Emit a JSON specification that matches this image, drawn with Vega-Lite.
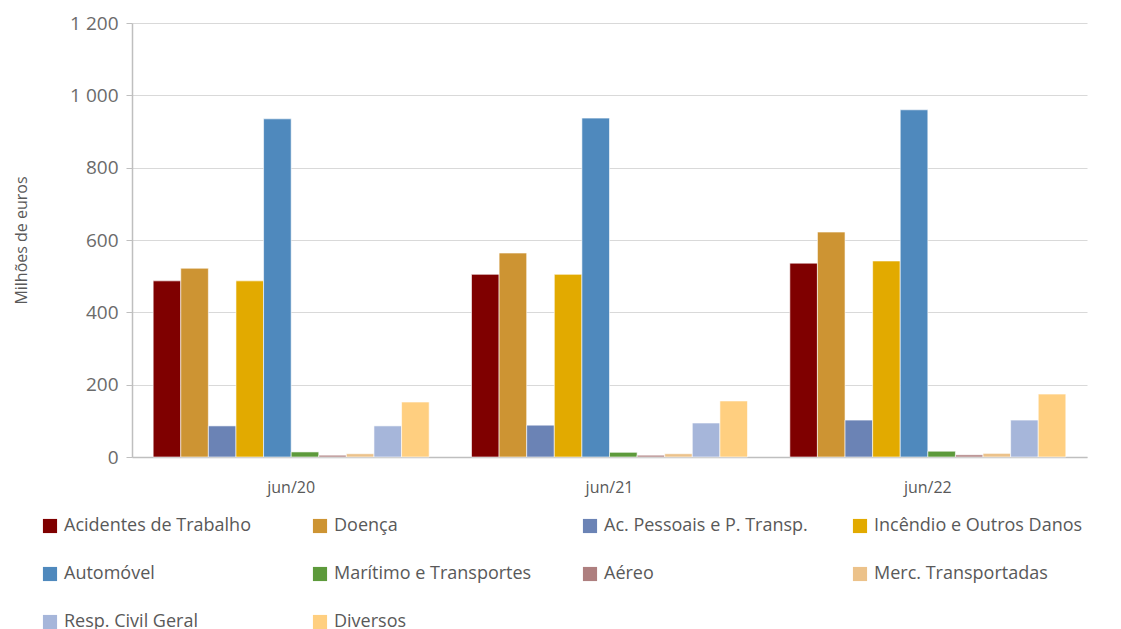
{
  "$schema": "https://vega.github.io/schema/vega-lite/v6.json",
  "width": 955,
  "height": 434,
  "autosize": {"type": "none"},
  "padding": {"left": 132, "top": 23, "right": 34, "bottom": 172},
  "background": "white",
  "config": {
    "font": "Open Sans",
    "view": {"stroke": null}
  },
  "data": {
    "values": [
      {"periodo": "jun/20", "ramo": "Acidentes de Trabalho", "ordem": 1, "valor": 487},
      {"periodo": "jun/20", "ramo": "Doença", "ordem": 2, "valor": 522},
      {"periodo": "jun/20", "ramo": "Ac. Pessoais e P. Transp.", "ordem": 3, "valor": 86},
      {"periodo": "jun/20", "ramo": "Incêndio e Outros Danos", "ordem": 4, "valor": 487},
      {"periodo": "jun/20", "ramo": "Automóvel", "ordem": 5, "valor": 935},
      {"periodo": "jun/20", "ramo": "Marítimo e Transportes", "ordem": 6, "valor": 14},
      {"periodo": "jun/20", "ramo": "Aéreo", "ordem": 7, "valor": 5},
      {"periodo": "jun/20", "ramo": "Merc. Transportadas", "ordem": 8, "valor": 9},
      {"periodo": "jun/20", "ramo": "Resp. Civil Geral", "ordem": 9, "valor": 86},
      {"periodo": "jun/20", "ramo": "Diversos", "ordem": 10, "valor": 152},
      {"periodo": "jun/21", "ramo": "Acidentes de Trabalho", "ordem": 1, "valor": 505},
      {"periodo": "jun/21", "ramo": "Doença", "ordem": 2, "valor": 564},
      {"periodo": "jun/21", "ramo": "Ac. Pessoais e P. Transp.", "ordem": 3, "valor": 88},
      {"periodo": "jun/21", "ramo": "Incêndio e Outros Danos", "ordem": 4, "valor": 505},
      {"periodo": "jun/21", "ramo": "Automóvel", "ordem": 5, "valor": 937},
      {"periodo": "jun/21", "ramo": "Marítimo e Transportes", "ordem": 6, "valor": 13},
      {"periodo": "jun/21", "ramo": "Aéreo", "ordem": 7, "valor": 5},
      {"periodo": "jun/21", "ramo": "Merc. Transportadas", "ordem": 8, "valor": 9},
      {"periodo": "jun/21", "ramo": "Resp. Civil Geral", "ordem": 9, "valor": 94},
      {"periodo": "jun/21", "ramo": "Diversos", "ordem": 10, "valor": 155},
      {"periodo": "jun/22", "ramo": "Acidentes de Trabalho", "ordem": 1, "valor": 536},
      {"periodo": "jun/22", "ramo": "Doença", "ordem": 2, "valor": 622},
      {"periodo": "jun/22", "ramo": "Ac. Pessoais e P. Transp.", "ordem": 3, "valor": 102},
      {"periodo": "jun/22", "ramo": "Incêndio e Outros Danos", "ordem": 4, "valor": 542},
      {"periodo": "jun/22", "ramo": "Automóvel", "ordem": 5, "valor": 960},
      {"periodo": "jun/22", "ramo": "Marítimo e Transportes", "ordem": 6, "valor": 16},
      {"periodo": "jun/22", "ramo": "Aéreo", "ordem": 7, "valor": 6},
      {"periodo": "jun/22", "ramo": "Merc. Transportadas", "ordem": 8, "valor": 10},
      {"periodo": "jun/22", "ramo": "Resp. Civil Geral", "ordem": 9, "valor": 102},
      {"periodo": "jun/22", "ramo": "Diversos", "ordem": 10, "valor": 174}
    ]
  },
  "mark": {"type": "bar", "stroke": "white", "strokeWidth": 0.6},
  "encoding": {
    "x": {
      "field": "periodo",
      "type": "nominal",
      "scale": {"paddingInner": 0.133, "paddingOuter": 0.0665},
      "axis": {
        "title": null,
        "labelAngle": 0,
        "labelFontSize": 16,
        "labelColor": "#595959",
        "labelPadding": 22,
        "domainColor": "#bfbfbf",
        "domainWidth": 1.5,
        "ticks": false,
        "grid": false
      }
    },
    "xOffset": {"field": "ramo", "type": "nominal", "sort": {"field": "ordem"}},
    "y": {
      "field": "valor",
      "type": "quantitative",
      "scale": {"domain": [0, 1200], "nice": false},
      "axis": {
        "title": "Milhões de euros",
        "titleFontSize": 16,
        "titleFontWeight": "normal",
        "titleColor": "#595959",
        "titlePadding": 40,
        "values": [0, 200, 400, 600, 800, 1000, 1200],
        "labelExpr": "replace(format(datum.value, ','), ',', ' ')",
        "labelFontSize": 19,
        "labelColor": "#6b6b6b",
        "labelPadding": 8,
        "domainColor": "#bfbfbf",
        "domainWidth": 1.5,
        "tickColor": "#bfbfbf",
        "tickSize": 6,
        "gridColor": "#d9d9d9",
        "gridWidth": 1
      }
    },
    "color": {
      "field": "ramo",
      "type": "nominal",
      "sort": ["Acidentes de Trabalho", "Doença", "Ac. Pessoais e P. Transp.", "Incêndio e Outros Danos", "Automóvel", "Marítimo e Transportes", "Aéreo", "Merc. Transportadas", "Resp. Civil Geral", "Diversos"],
      "scale": {
        "domain": ["Acidentes de Trabalho", "Doença", "Ac. Pessoais e P. Transp.", "Incêndio e Outros Danos", "Automóvel", "Marítimo e Transportes", "Aéreo", "Merc. Transportadas", "Resp. Civil Geral", "Diversos"],
        "range": ["#7f0000", "#cd9433", "#6b83b5", "#e2aa00", "#4f89bd", "#5d9a3b", "#ae7f7f", "#ecc28a", "#a6b6da", "#ffcf80"]
      },
      "legend": {
        "title": null,
        "orient": "none",
        "legendX": -91,
        "legendY": 494,
        "direction": "horizontal",
        "columns": 4,
        "gridAlign": "all",
        "columnPadding": 38,
        "rowPadding": 30,
        "symbolType": "square",
        "symbolSize": 200,
        "symbolStrokeWidth": 0,
        "labelFontSize": 18,
        "labelColor": "#595959",
        "labelOffset": 5,
        "labelLimit": 300
      }
    }
  }
}
